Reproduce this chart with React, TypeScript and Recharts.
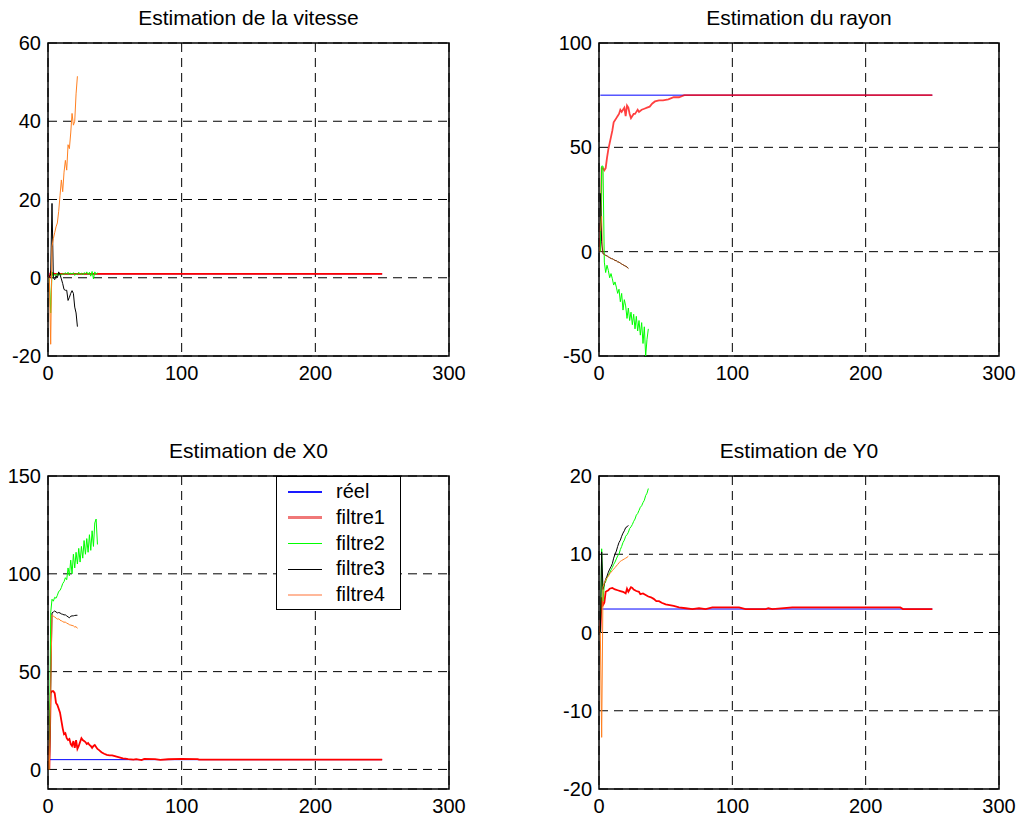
import React from 'react';
import { LineChart, Line, XAxis, YAxis, CartesianGrid, ReferenceArea, Legend } from 'recharts';

type Pt = [number, number];

const FONT = '"Liberation Sans", Arial, Helvetica, sans-serif';

// series names / colors (shared by the 4 panels)
const seriesNames = ['réel', 'filtre1', 'filtre2', 'filtre3', 'filtre4'];
const seriesColors = ['#0000ff', '#ff0000', '#00ff00', '#000000', '#ff8020'];
const seriesWidths = [1, 1.8, 1, 1, 1];
const legendColors = ['#1a1aff', '#f07878', '#00ff00', '#000000', '#ffb89a'];
const legendWidths = [1.5, 2.5, 1.5, 1, 2.5];

const xTicks = [0, 100, 200, 300];

// --- Estimation de la vitesse
const vitesseTicks = [-20, 0, 20, 40, 60];
const vitesseReel: Pt[] = [[1, 1], [250, 1]];
const vitesseFiltre1: Pt[] = [[1, 0], [2, 1.3], [3, 0.8], [4, 1.1], [5, 1], [250, 1]];
const vitesseFiltre2: Pt[] = [
  [1, 0], [2, -9], [3, 1.5], [4, 0.3], [5, 0.9], [6, 0.5], [7, 1.2], [8, 0.6], [9, 1.0], [10, 0.7],
  [11, 1.1], [12, 0.8], [13, 1.3], [14, 0.9], [15, 1.4], [16, 0.7], [17, 1.2], [18, 0.9], [19, 1.3], [20, 0.6],
  [21, 1.1], [22, 0.8], [23, 1.4], [24, 0.9], [25, 1.2], [26, 0.7], [27, 1.3], [28, 1.0], [29, 1.5], [30, 0.8],
  [31, 1.4], [32, 0.4], [33, 1.6], [34, -0.3], [35, 1.5], [36, 0.9], [37, 1.3],
];
const vitesseFiltre3: Pt[] = [
  [1, 0], [2, 1], [3, 19], [4, 0], [5, -0.5], [6, 0.5], [7, 0], [8, 1.5], [9, 0.8], [10, -0.3],
  [11, -1.5], [12, -3], [13, -3.2], [14, -3.2], [15, -5.8], [16, -5], [17, -4], [18, -3.3], [19, -4], [20, -7.5],
  [21, -9], [22, -12.5],
];
const vitesseFiltre4: Pt[] = [
  [1, 0], [2, -17], [3, 8], [4, 10], [5, 11.5], [6, 13], [7, 14], [8, 17], [9, 21], [10, 25],
  [11, 22], [12, 27], [13, 30], [14, 27.5], [15, 34], [16, 33], [17, 37], [18, 42], [19, 39], [20, 40],
  [21, 47], [22, 51.5],
];

// --- Estimation du rayon
const rayonTicks = [-50, 0, 50, 100];
const rayonReel: Pt[] = [[1, 75], [250, 75]];
const rayonFiltre1: Pt[] = [
  [1, 0], [2, 40], [3, 40], [4, 39], [5, 40], [6, 45], [7, 49], [8, 52], [9, 55], [10, 58],
  [11, 62], [12, 63], [13, 64], [14, 65], [15, 66], [16, 68], [17, 67], [18, 68], [19, 69], [20, 65],
  [21, 70], [22, 69], [23, 66], [24, 64], [25, 65], [26, 66], [27, 66], [28, 67], [29, 68], [30, 67],
  [32, 68], [34, 68.5], [36, 69], [38, 69.5], [40, 71], [42, 72], [45, 72.5], [48, 72.5], [52, 73], [56, 74],
  [60, 74], [64, 75], [250, 75],
];
const rayonFiltre2: Pt[] = [
  [1, 0], [2, 41], [3, 41], [4, -5], [5, -10], [6, -6.5], [7, -9], [8, -12.5], [9, -10.5], [10, -13],
  [11, -16], [12, -14.5], [13, -17], [14, -20], [15, -18], [16, -24], [17, -20], [18, -28], [19, -23], [20, -26],
  [21, -32], [22, -27], [23, -33], [24, -29], [25, -35], [26, -30], [27, -37], [28, -31], [29, -38], [30, -33],
  [31, -40], [32, -34], [33, -44], [34, -36], [35, -50], [36, -42], [37, -37],
];
const rayonFiltre3: Pt[] = [
  [1, 28], [2, 5], [3, -1], [4, -1.2], [5, -1.8], [6, -2], [7, -2.5], [8, -2.8], [9, -3.3], [10, -3.4],
  [11, -3.8], [12, -4.2], [13, -4.3], [14, -4.9], [15, -5], [16, -5.5], [17, -5.9], [18, -6.3], [19, -6.6], [20, -7],
  [21, -7.3], [22, -8],
];
const rayonFiltre4: Pt[] = [
  [1, 10], [2, 17], [3, -1], [4, -1.4], [5, -1.7], [6, -2.2], [7, -2.4], [8, -3], [9, -3.1], [10, -3.6],
  [11, -3.7], [12, -4.3], [13, -4.5], [14, -4.7], [15, -5.2], [16, -5.4], [17, -6], [18, -6.2], [19, -6.8], [20, -6.9],
  [21, -7.5], [22, -8.1],
];

// --- Estimation de X0
const x0Ticks = [0, 50, 100, 150];
const x0Reel: Pt[] = [[1, 5], [250, 5]];
const x0Filtre1: Pt[] = [
  [1, 0], [2, 39], [3, 40], [4, 40], [5, 39], [6, 34], [7, 33], [8, 31], [9, 29], [10, 25],
  [11, 21], [12, 18], [13, 18.5], [14, 16], [15, 15], [16, 15.5], [17, 13], [18, 12], [19, 14.5], [20, 11],
  [21, 15], [22, 10.5], [23, 12], [24, 14], [25, 16], [26, 15], [27, 14.5], [28, 14], [29, 13], [30, 13.5],
  [31, 12.5], [32, 12], [33, 11], [34, 12], [35, 12.5], [36, 11.5], [37, 10.5], [38, 10], [40, 8.8], [42, 8],
  [44, 7.5], [46, 7.2], [48, 7.2], [50, 6.8], [52, 6.4], [54, 6], [56, 5.6], [58, 5.5], [60, 5.3], [64, 5],
  [66, 5.3], [70, 4.8], [72, 5.4], [80, 5.3], [84, 4.9], [90, 5.2], [100, 5.4], [112, 5.3], [113, 5], [250, 5],
];
const x0Filtre2: Pt[] = [
  [1, 0], [2, 80], [3, 87], [4, 86], [5, 88], [6, 87.5], [7, 89], [8, 91], [9, 91.5], [10, 93],
  [11, 95], [12, 96], [13, 98], [14, 97], [15, 103], [16, 99], [17, 107], [18, 100], [19, 110], [20, 103],
  [21, 111], [22, 105], [23, 113], [24, 106], [25, 114], [26, 108], [27, 117], [28, 110], [29, 118], [30, 111],
  [31, 120], [32, 112], [33, 122], [34, 114], [35, 126], [36, 128], [37, 115],
];
const x0Filtre3: Pt[] = [
  [1, 0], [3, 80], [4, 80.5], [5, 81], [6, 80.5], [7, 80], [8, 80.2], [9, 80], [10, 79.5],
  [11, 79.3], [12, 79], [13, 79], [14, 78.5], [15, 78], [16, 77.5], [17, 78.3], [18, 78.5], [19, 78.5], [20, 78.7],
  [21, 78.8], [22, 78.8],
];
const x0Filtre4: Pt[] = [
  [1, 0], [3, 79], [4, 78.5], [5, 77.8], [6, 77.5], [7, 76.8], [8, 77], [9, 76.3], [10, 76],
  [11, 75.6], [12, 75.2], [13, 75.4], [14, 74.7], [15, 74.5], [16, 74], [17, 73.8], [18, 73.6], [19, 73.4], [20, 72.8],
  [21, 73], [22, 72.1],
];

// --- Estimation de Y0
const y0Ticks = [-20, -10, 0, 10, 20];
const y0Reel: Pt[] = [[1, 3], [250, 3]];
const y0Filtre1: Pt[] = [
  [1, 0], [2, 4.5], [3, 3.5], [4, 3.8], [5, 5.2], [6, 5.3], [7, 5.4], [8, 5.6], [10, 5.7], [12, 5.5],
  [14, 5.4], [16, 5.3], [18, 5.2], [20, 5.0], [21, 5.6], [22, 5.2], [23, 5.5], [24, 5.8], [25, 5.7], [26, 5.5],
  [28, 5.3], [30, 5.2], [31, 4.9], [33, 5], [35, 4.8], [37, 4.6], [39, 4.5], [41, 4.3], [43, 4], [45, 4],
  [47, 3.8], [50, 3.6], [53, 3.5], [56, 3.4], [60, 3.2], [65, 3.1], [70, 3], [75, 3.1], [80, 3.0], [85, 3.2],
  [95, 3.2], [105, 3.2], [110, 3.0], [125, 3.0], [127, 3.1], [130, 3.0], [145, 3.2], [226, 3.2], [228, 3.0], [250, 3],
];
const y0Filtre2: Pt[] = [
  [1, 0], [2, 10.7], [3, 4], [4, 6.2], [5, 6.5], [6, 7], [7, 7.3], [8, 7.6], [9, 8], [10, 8.3],
  [11, 8.7], [12, 9], [13, 9.4], [14, 9.8], [15, 10], [16, 10.6], [17, 11], [18, 11.5], [19, 11.8], [20, 12.3],
  [21, 12.5], [22, 12.8], [23, 13.3], [24, 13.5], [25, 13.8], [26, 14.2], [27, 14.5], [28, 15], [29, 15.2], [30, 15.6],
  [31, 16], [32, 16.2], [33, 16.6], [34, 16.9], [35, 17.5], [36, 17.8], [37, 18.4],
];
const y0Filtre3: Pt[] = [
  [1, 0], [2, 10.3], [3, 5.5], [4, 6.2], [5, 6.8], [6, 7.2], [7, 7.7], [8, 8.1], [9, 8.4], [10, 8.8],
  [11, 9.5], [12, 10], [13, 10.4], [14, 11], [15, 11.5], [16, 11.8], [17, 12.3], [18, 12.7], [19, 13], [20, 13.4],
  [21, 13.5], [22, 13.7],
];
const y0Filtre4: Pt[] = [
  [1, 0], [2, -13.4], [3, 5.8], [4, 6.3], [5, 6.7], [6, 7], [7, 7.2], [8, 7.5], [9, 7.7], [10, 7.9],
  [11, 8.1], [12, 8.3], [13, 8.5], [14, 8.7], [15, 8.9], [16, 9.1], [17, 9.2], [18, 9.3], [19, 9.4], [20, 9.5],
  [21, 9.6], [22, 9.75],
];

const toRows = (pts: Pt[]) => pts.map(([x, y]) => ({ x, y }));

const LegendBox = () => (
  <div
    style={{
      width: 125,
      height: 134,
      boxSizing: 'border-box',
      border: '1.5px solid #000',
      background: '#fff',
      paddingTop: 2,
      fontFamily: FONT,
      fontSize: 20,
      color: '#000',
    }}
  >
    {seriesNames.map((name, i) => (
      <div key={name} style={{ display: 'flex', alignItems: 'center', height: 25.8 }}>
        <div style={{ width: 34, height: legendWidths[i], background: legendColors[i], marginLeft: 11, marginRight: 14 }} />
        <span style={{ lineHeight: '25.8px' }}>{name}</span>
      </div>
    ))}
  </div>
);

interface PanelProps {
  left: number;
  top: number;
  width: number;
  height: number;
  bottom: number;
  title: string;
  yDomain: [number, number];
  yTicks: number[];
  series: Pt[][];
  opacities?: number[];
  showLegend?: boolean;
}

const Panel: React.FC<PanelProps> = ({ left, top, width, height, bottom, title, yDomain, yTicks, series, opacities, showLegend }) => {
  const plotLeft = 48;
  const plotWidth = width - 48 - 21;
  return (
    <div style={{ position: 'absolute', left, top, width, height }}>
      <div
        style={{
          position: 'absolute',
          left: plotLeft,
          width: plotWidth,
          top: 7,
          textAlign: 'center',
          fontFamily: FONT,
          fontSize: 21,
          lineHeight: '21px',
          color: '#000',
          whiteSpace: 'nowrap',
        }}
      >
        {title}
      </div>
      <LineChart width={width} height={height} margin={{ top: 43, right: 21, bottom, left: 8 }} style={{ fontFamily: FONT }}>
        <CartesianGrid stroke="#000" strokeDasharray="9 6" strokeWidth={1} />
        <XAxis
          dataKey="x"
          type="number"
          domain={[0, 300]}
          ticks={xTicks}
          height={30}
          axisLine={false}
          tickLine={false}
          tickSize={0}
          tickMargin={10}
          tick={{ fill: '#000', fontSize: 20 }}
          allowDataOverflow
        />
        <YAxis
          type="number"
          domain={yDomain}
          ticks={yTicks}
          width={40}
          axisLine={false}
          tickLine={false}
          tickSize={0}
          tickMargin={7}
          tick={{ fill: '#000', fontSize: 20 }}
          allowDataOverflow
        />
        <ReferenceArea x1={0} x2={300} y1={yDomain[0]} y2={yDomain[1]} fill="none" fillOpacity={0} stroke="#000" strokeWidth={1.5} />
        {series.map((pts, i) => (
          <Line
            key={seriesNames[i]}
            name={seriesNames[i]}
            data={toRows(pts)}
            dataKey="y"
            type="linear"
            stroke={seriesColors[i]}
            strokeOpacity={opacities ? opacities[i] : 1}
            strokeWidth={seriesWidths[i]}
            dot={false}
            activeDot={false}
            isAnimationActive={false}
          />
        ))}
        {showLegend && (
          <Legend
            layout="vertical"
            align="center"
            verticalAlign="middle"
            content={() => <LegendBox />}
            wrapperStyle={{ left: 276, top: 43, width: 125, height: 134 }}
          />
        )}
      </LineChart>
    </div>
  );
};

export default function App() {
  return (
    <div style={{ position: 'absolute', left: 0, top: 0, width: 1025, height: 820, overflow: 'hidden', background: '#fff' }}>
      <Panel
        left={0}
        top={0}
        width={470}
        height={400}
        bottom={14}
        title="Estimation de la vitesse"
        yDomain={[-20, 60]}
        yTicks={vitesseTicks}
        series={[vitesseReel, vitesseFiltre1, vitesseFiltre2, vitesseFiltre3, vitesseFiltre4]}
      />
      <Panel
        left={551}
        top={0}
        width={469}
        height={400}
        bottom={14}
        title="Estimation du rayon"
        yDomain={[-50, 100]}
        yTicks={rayonTicks}
        series={[rayonReel, rayonFiltre1, rayonFiltre2, rayonFiltre3, rayonFiltre4]}
        opacities={[1, 0.75, 1, 1, 0.65]}
      />
      <Panel
        left={0}
        top={433}
        width={470}
        height={387}
        bottom={1}
        title="Estimation de X0"
        yDomain={[-10, 150]}
        yTicks={x0Ticks}
        series={[x0Reel, x0Filtre1, x0Filtre2, x0Filtre3, x0Filtre4]}
        showLegend
      />
      <Panel
        left={551}
        top={433}
        width={469}
        height={387}
        bottom={1}
        title="Estimation de Y0"
        yDomain={[-20, 20]}
        yTicks={y0Ticks}
        series={[y0Reel, y0Filtre1, y0Filtre2, y0Filtre3, y0Filtre4]}
      />
    </div>
  );
}
